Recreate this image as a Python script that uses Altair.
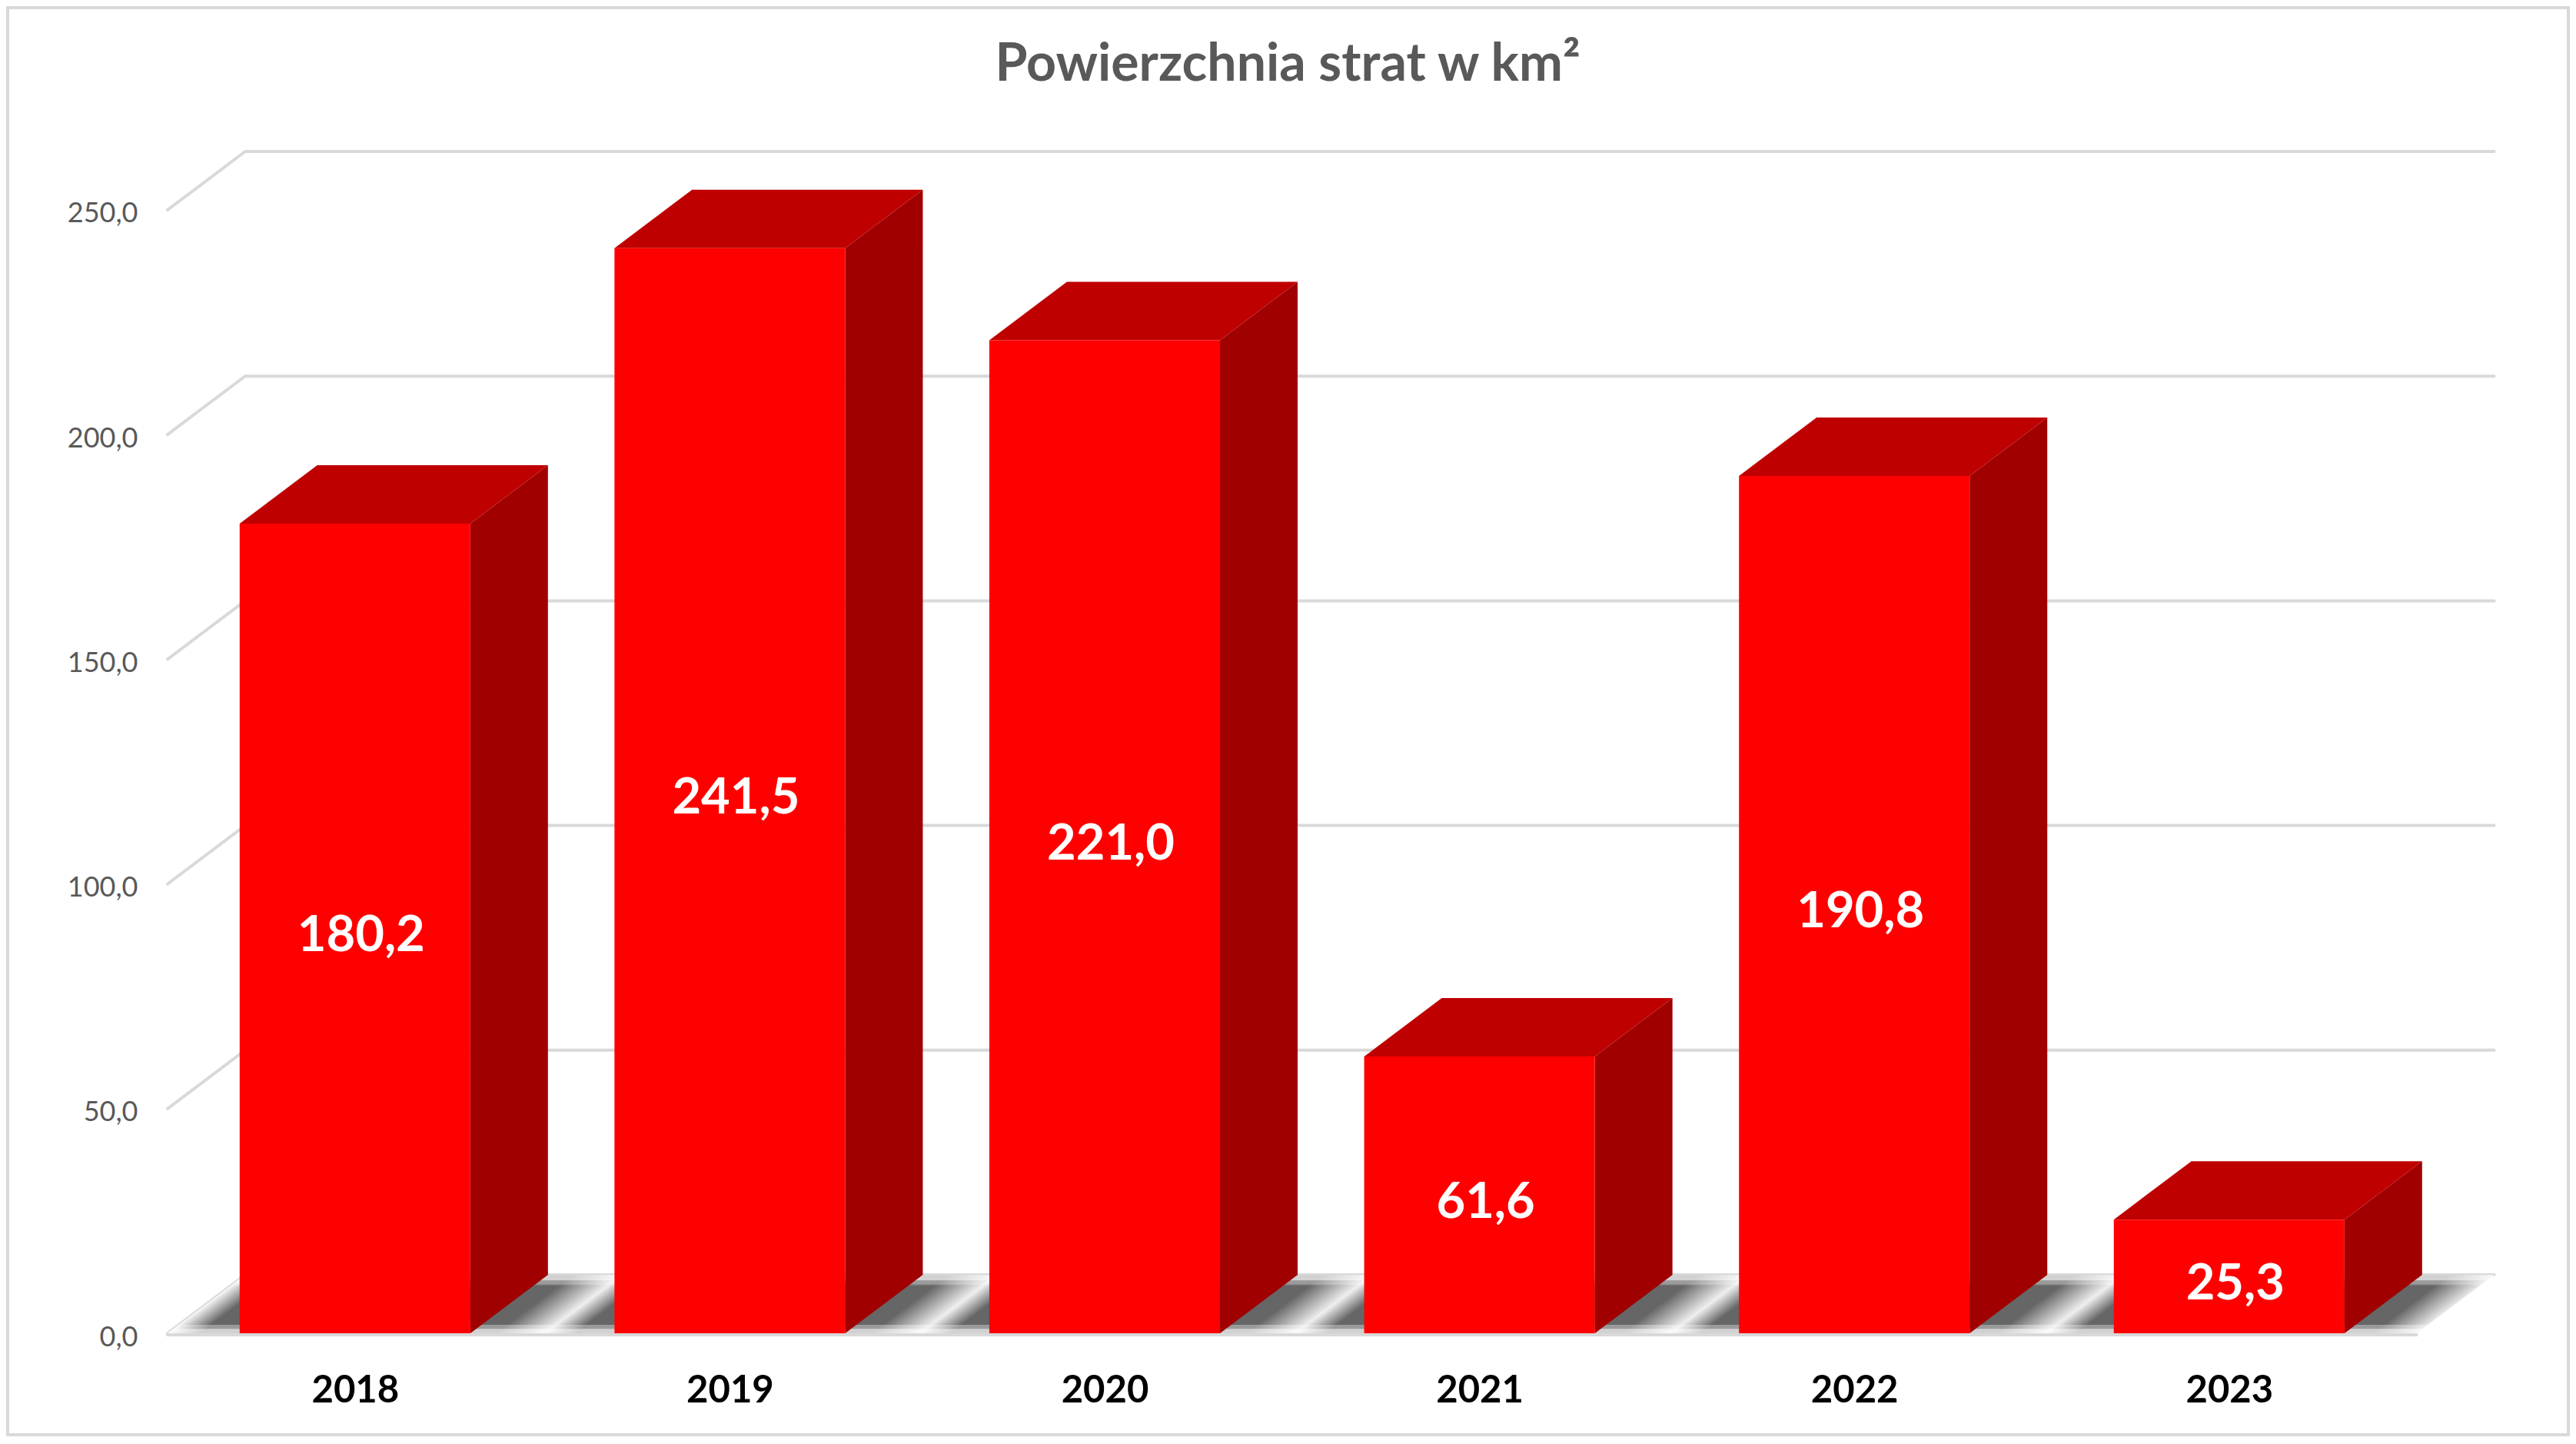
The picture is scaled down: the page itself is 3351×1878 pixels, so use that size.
import altair as alt

# ---- values ----
years = ["2018", "2019", "2020", "2021", "2022", "2023"]
losses = [180.2, 241.5, 221.0, 61.6, 190.8, 25.3]
y_ticks = [0, 50, 100, 150, 200, 250]
title_text = "Powierzchnia strat w km²"

# 3D look of the chart, expressed in axis units
HALF = 0.3077     # half of a bar's width, in categories
DX = 0.2071       # depth along the category axis
DY = 13.0         # depth along the value axis
N = len(years)

GRID = "#D9D9D9"
TEXT = "#595959"

front, side, top = [], [], []
for i, (yr, v) in enumerate(zip(years, losses)):
    l, r = i + 0.5 - HALF, i + 0.5 + HALF
    front.append(dict(year=yr, x=l, x2=r, y=0, y2=v, xc=i + 0.5, ym=v / 2,
                      label=f"{v:.1f}".replace(".", ",")))
    side += [dict(year=yr, x=r, y=0, y2=v), dict(year=yr, x=r + DX, y=DY, y2=v + DY)]
    top += [dict(year=yr, x=l, x2=r, y=v), dict(year=yr, x=l + DX, x2=r + DX, y=v + DY)]

grid = []
for t in y_ticks:
    grid += [dict(t=t, o=0, x=0, y=t), dict(t=t, o=1, x=DX, y=t + DY), dict(t=t, o=2, x=N + DX, y=t + DY)]

floor = [dict(x=0, y=0, y2=0), dict(x=DX, y=0, y2=DY), dict(x=N, y=0, y2=DY), dict(x=N + DX, y=DY, y2=DY)]

# floor shadow: one repeating slanted gradient, one period per category
W = N + DX
DARK, LIGHT = "#666666", "#EFEFEF"
shadow_stops = [alt.GradientStop(color="#FFFFFF", offset=DX / W)]
for i in range(-1, N):
    r = i + 0.5 + HALF
    shadow_stops.append(alt.GradientStop(color=LIGHT, offset=min(1, (r + 0.197 + DX) / W)))
    shadow_stops.append(alt.GradientStop(color=DARK, offset=min(1, (r + 0.279 + DX) / W)))
    if i + 1 < N:
        shadow_stops.append(alt.GradientStop(color=DARK, offset=min(1, (r + 1 + 0.066 + DX) / W)))
shadow = alt.LinearGradient(gradient="linear", x1=0, y1=0, x2=1, y2=DX / W, stops=shadow_stops)

haze = alt.LinearGradient(
    gradient="linear", x1=0, y1=0, x2=0, y2=1,
    stops=[
        alt.GradientStop(color="rgba(255,255,255,0.70)", offset=0.0),
        alt.GradientStop(color="rgba(255,255,255,0.70)", offset=0.09),
        alt.GradientStop(color="rgba(255,255,255,0.35)", offset=0.10),
        alt.GradientStop(color="rgba(255,255,255,0.35)", offset=0.15),
        alt.GradientStop(color="rgba(255,255,255,0.0)", offset=0.19),
        alt.GradientStop(color="rgba(255,255,255,0.0)", offset=0.85),
        alt.GradientStop(color="rgba(255,255,255,0.35)", offset=0.86),
        alt.GradientStop(color="rgba(255,255,255,0.35)", offset=0.92),
        alt.GradientStop(color="rgba(255,255,255,0.70)", offset=0.93),
        alt.GradientStop(color="rgba(255,255,255,0.70)", offset=1.0),
    ],
)

x_scale = alt.Scale(domain=[0, 3030 / 487.6], nice=False, zero=False)
y_scale = alt.Scale(domain=[0, 263], nice=False, zero=False)
x_axis = alt.Axis(
    values=[i + 0.5 for i in range(N)], labelExpr=f"{years}[floor(datum.value)]",
    grid=False, domain=False, ticks=False, title=None, labelFont="Lato", labelFontWeight="bold",
    labelFontSize=49, labelColor="#000000", labelPadding=50, labelAngle=0, labelOverlap=False,
)
y_axis = alt.Axis(
    values=y_ticks, labelExpr="replace(format(datum.value, '.1f'), '.', ',')",
    grid=False, domain=False, ticks=False, title=None, labelFont="Lato", labelFontSize=36,
    labelColor=TEXT, labelPadding=39, labelOverlap=False, labelOffset=5,
)
X = alt.X("x:Q", scale=x_scale, axis=x_axis)
Y = alt.Y("y:Q", scale=y_scale, axis=y_axis)


def df(rows):
    return alt.Data(values=rows)


border = alt.Chart(df([{}])).mark_rect(filled=False, stroke=GRID, strokeWidth=4).encode(
    x=alt.value(-208), x2=alt.value(3123), y=alt.value(-187), y2=alt.value(1669)
)
title = alt.Chart(df([dict(t=title_text)])).mark_text(
    font="Lato", fontSize=68, fontWeight="bold", color=TEXT, align="center", baseline="middle"
).encode(x=alt.value(1457), y=alt.value(-112), text="t:N")
floor_fill = alt.Chart(df(floor)).mark_area(orient="vertical", color=shadow).encode(x=X, y=Y, y2="y2:Q")
floor_haze = alt.Chart(df(floor)).mark_area(orient="vertical", color=haze).encode(x=X, y=Y, y2="y2:Q")
grid_lines = alt.Chart(df(grid)).mark_line(color=GRID, strokeWidth=4, strokeCap="round", strokeJoin="round").encode(
    x=X, y=Y, detail="t:N", order="o:Q"
)
front_line = alt.Chart(df([dict(x=0, x2=N, y=0)])).mark_rule(color=GRID, strokeWidth=4, strokeCap="round", yOffset=2).encode(
    x=X, x2="x2:Q", y=Y
)
side_faces = alt.Chart(df(side)).mark_area(orient="vertical", color="#A00000").encode(x=X, y=Y, y2="y2:Q", detail="year:N")
top_faces = alt.Chart(df(top)).mark_area(orient="horizontal", color="#BF0000").encode(x=X, x2="x2:Q", y=Y, detail="year:N")
front_faces = alt.Chart(df(front)).mark_rect(color="#FF0000").encode(x=X, x2="x2:Q", y=Y, y2="y2:Q")
labels = alt.Chart(df(front)).mark_text(
    color="#FFFFFF", font="Lato", fontWeight="bold", fontSize=65, baseline="middle", align="center", dx=8, dy=10
).encode(x=alt.X("xc:Q", scale=x_scale, axis=x_axis), y=alt.Y("ym:Q", scale=y_scale, axis=y_axis), text="label:N")

chart = (
    alt.layer(border, title, grid_lines, floor_fill, floor_haze, front_line, side_faces, top_faces, front_faces, labels)
    .properties(
        width=3030,
        height=1537,
        padding={"left": 210, "top": 189, "right": 95, "bottom": 134},
        autosize=alt.AutoSizeParams(type="none"),
        background="#FFFFFF",
    )
    .configure_view(strokeWidth=0)
)

chart.save("out.html", embed_options={"renderer": "svg", "actions": False})
